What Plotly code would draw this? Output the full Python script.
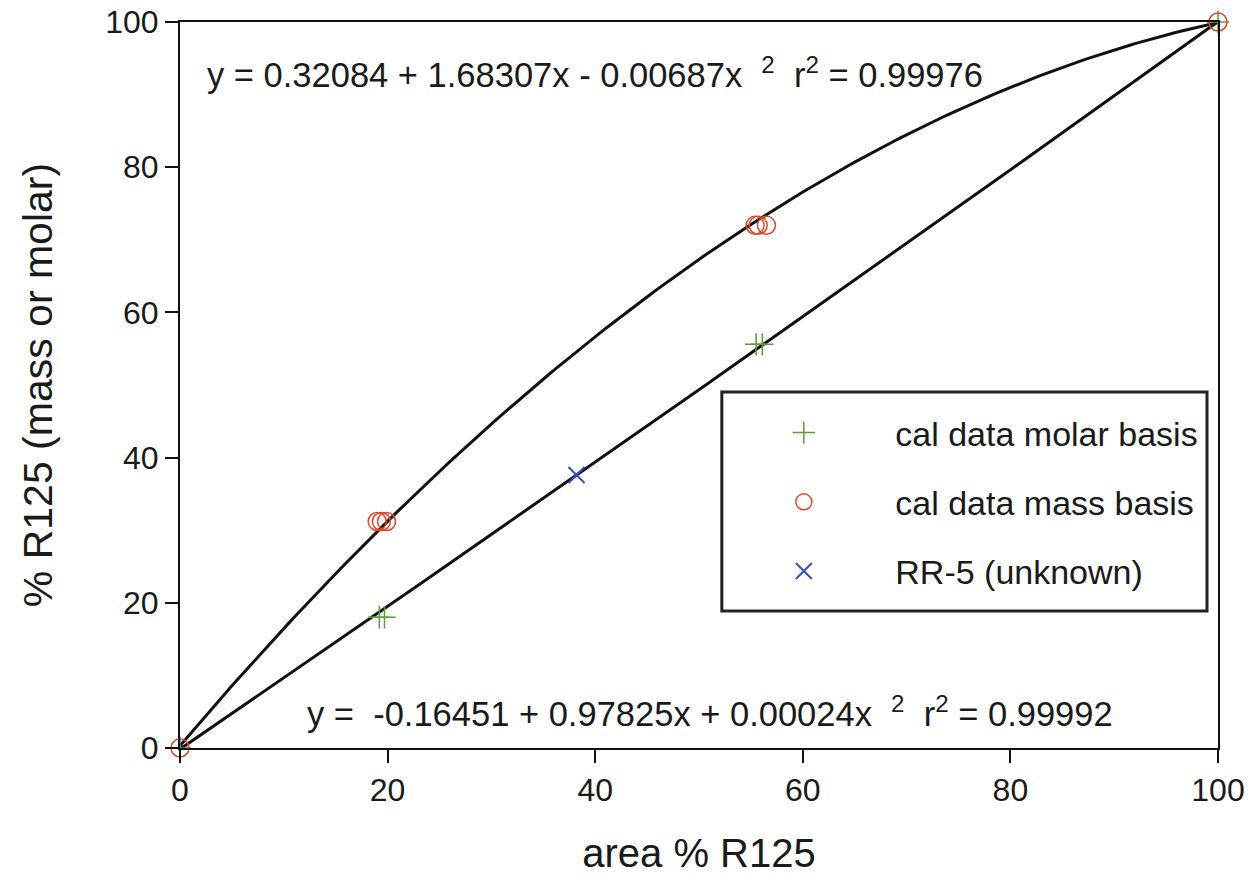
import numpy as np
import plotly.graph_objects as go

# ---- data ----
molar_x = [0, 19.2, 19.7, 55.5, 56.1, 100]
molar_y = [0, 18.0, 18.0, 55.6, 55.6, 100]
mass_x = [0, 19.0, 19.4, 19.9, 55.4, 55.7, 56.5, 100]
mass_y = [0, 31.2, 31.2, 31.2, 72.0, 72.0, 72.0, 100]
unk_x = [38.2]
unk_y = [37.6]

# fit coefficients as printed on the chart (c0, c1, c2)
mass_fit = [0.32084, 1.68307, -0.00687]
molar_fit = [-0.16451, 0.97825, 0.00024]

xticks = [0, 20, 40, 60, 80, 100]
yticks = [0, 20, 40, 60, 80, 100]

FONT = "Liberation Sans, Arial, Helvetica, sans-serif"
TXT = "#1a1a1a"
NB = "\u00a0"

xf = np.linspace(0, 100, 201)
fit_mass_y = mass_fit[0] + mass_fit[1] * xf + mass_fit[2] * xf ** 2
fit_molar_y = molar_fit[0] + molar_fit[1] * xf + molar_fit[2] * xf ** 2

fig = go.Figure()
fig.add_trace(go.Scatter(x=xf, y=fit_mass_y, mode="lines",
                         line=dict(color="#111111", width=3), showlegend=False))
fig.add_trace(go.Scatter(x=xf, y=fit_molar_y, mode="lines",
                         line=dict(color="#111111", width=3), showlegend=False))

fig.add_trace(go.Scatter(x=molar_x, y=molar_y, mode="markers", cliponaxis=False,
                         name=NB + "cal data molar basis", legendgroup="a",
                         marker=dict(symbol="cross-thin", size=16,
                                     line=dict(color="#5f9a3c", width=1.5))))
fig.add_trace(go.Scatter(x=mass_x, y=mass_y, mode="markers", cliponaxis=False,
                         name=NB + "cal data mass basis", legendgroup="b",
                         marker=dict(symbol="circle-open", size=18,
                                     color="#dc4a2c", line=dict(width=1.5))))
fig.add_trace(go.Scatter(x=unk_x, y=unk_y, mode="markers", cliponaxis=False,
                         name=NB + "RR-5 (unknown)", legendgroup="c",
                         marker=dict(symbol="x-thin", size=16,
                                     line=dict(color="#3a4cc0", width=2))))

axis_common = dict(
    range=[0, 100], tickvals=xticks, showgrid=False, zeroline=False,
    showline=True, linecolor="#111111", linewidth=2, mirror=True,
    ticks="outside", ticklen=13, tickwidth=2, tickcolor="#111111",
    tickfont=dict(family=FONT, size=32, color=TXT),
    automargin=False, ticklabeloverflow="allow",
)
fig.update_xaxes(**axis_common,
                 title=dict(text="area % R125", standoff=33,
                            font=dict(family=FONT, size=40, color=TXT)))
fig.update_yaxes(**{**axis_common, "tickvals": yticks},
                 title=dict(text="% R125 (mass or molar)", standoff=40,
                            font=dict(family=FONT, size=41, color=TXT)))

fig.add_annotation(xref="paper", yref="paper", x=0.024, y=0.93,
                   xanchor="left", yanchor="middle", showarrow=False,
                   text="y = 0.32084 + 1.68307x - 0.00687x" + NB * 2 + "<sup>2</sup>" + NB * 2
                        + "r<sup>2</sup>" + NB + "= 0.99976",
                   font=dict(family=FONT, size=34.5, color=TXT))
fig.add_annotation(xref="paper", yref="paper", x=0.120, y=0.05,
                   xanchor="left", yanchor="middle", showarrow=False,
                   text="y =" + NB * 2 + "-0.16451 + 0.97825x + 0.00024x" + NB * 2 + "<sup>2</sup>"
                        + NB * 2 + "r<sup>2</sup>" + NB + "= 0.99992",
                   font=dict(family=FONT, size=34.5, color=TXT))

# legend frame
fig.add_shape(type="rect", xref="paper", yref="paper",
              x0=0.522, x1=0.9894, y0=0.1887, y1=0.4904,
              line=dict(color="#222222", width=3), fillcolor="white", layer="above")

fig.update_layout(
    width=1259, height=875,
    margin=dict(l=180, r=41, t=22, b=127),
    paper_bgcolor="white", plot_bgcolor="white",
    legend=dict(x=0.522, y=0.4738, xanchor="left", yanchor="top",
                bgcolor="rgba(0,0,0,0)", borderwidth=0,
                font=dict(family=FONT, size=34, color=TXT),
                traceorder="grouped", tracegroupgap=22, itemwidth=154),
)

fig.write_html("out.html", config={"displayModeBar": False},
               post_script="document.body.style.margin='0px';")
